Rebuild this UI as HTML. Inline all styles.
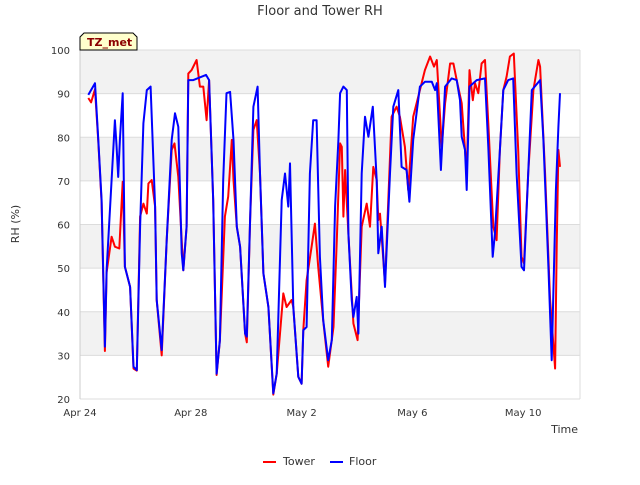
<!DOCTYPE html>
<html><head><meta charset="utf-8"><style>
body{margin:0;background:#fff;font-family:"Liberation Sans","DejaVu Sans",sans-serif}
svg text{font-family:"DejaVu Sans","Liberation Sans",sans-serif}
</style></head><body>
<svg id="c" width="640" height="480" xmlns="http://www.w3.org/2000/svg">
<text x="320" y="15" text-anchor="middle" font-size="13" fill="#333">Floor and Tower RH</text>
<g id="bands"></g><g id="grid"></g><g id="ylab"></g><g id="xlab"></g>
<text transform="translate(19,224) rotate(-90)" text-anchor="middle" font-size="11" fill="#333">RH (%)</text>
<text x="578" y="433" text-anchor="end" font-size="11" fill="#333">Time</text>
<g id="series"></g>
<g><path d="M80,50 L80,37 L84,33 L133,33 L137,37 L137,50 Z" fill="#ffffcc" stroke="#000" stroke-width="1"/><text x="87" y="46" font-size="11" font-weight="bold" fill="#8b0000">TZ_met</text></g>
<g><line x1="263" y1="462" x2="276" y2="462" stroke="#f00" stroke-width="2"/><text x="283" y="465" font-size="11" fill="#333">Tower</text></g>
<g><line x1="330" y1="462" x2="343" y2="462" stroke="#00f" stroke-width="2"/><text x="349" y="465" font-size="11" fill="#333">Floor</text></g>
</svg>
<script>
const yTicks=[20,30,40,50,60,70,80,90,100];
const xTickDays=[0,4,8,12,16];
const xTickLabels=["Apr 24","Apr 28","May 2","May 6","May 10"];
const floorDays=[0.30,0.54,0.66,0.78,0.90,0.96,1.14,1.26,1.32,1.38,1.44,1.54,1.62,1.81,1.93,2.05,2.17,2.29,2.41,2.55,2.71,2.77,2.95,3.13,3.31,3.43,3.55,3.67,3.73,3.85,3.91,4.09,4.55,4.66,4.81,4.93,5.05,5.17,5.29,5.42,5.54,5.66,5.78,5.96,6.02,6.14,6.26,6.41,6.50,6.62,6.80,6.98,7.10,7.28,7.40,7.52,7.58,7.70,7.88,8.00,8.06,8.18,8.30,8.42,8.54,8.66,8.78,8.96,9.09,9.21,9.33,9.39,9.51,9.63,9.69,9.81,9.87,9.99,10.05,10.17,10.29,10.41,10.57,10.71,10.77,10.89,11.01,11.19,11.31,11.49,11.61,11.79,11.89,12.03,12.27,12.45,12.70,12.82,12.88,13.03,13.18,13.42,13.60,13.72,13.78,13.90,13.96,14.06,14.32,14.62,14.74,14.90,14.98,15.16,15.28,15.46,15.64,15.76,15.94,16.03,16.18,16.31,16.61,16.73,16.91,17.03,17.18,17.27,17.33];
const floorRH=[89.7,92.4,79.4,65.6,32.0,49.5,70.2,83.9,77.8,70.9,79.4,90.1,50.3,45.7,27.4,26.6,59.5,83.2,90.8,91.6,64.1,42.7,31.2,56.4,79.4,85.5,82.4,53.4,49.5,59.5,93.1,93.1,94.3,93.1,65.6,25.8,33.5,70.2,90.1,90.4,79.4,59.5,54.9,35.0,34.3,61.0,87.0,91.6,71.7,48.8,41.1,21.3,25.8,65.6,71.7,64.1,74.0,41.1,25.1,23.5,35.8,36.5,71.7,83.9,83.9,52.6,38.1,28.9,33.5,64.1,79.4,90.1,91.6,90.8,57.9,42.7,38.8,43.4,35.0,71.7,84.7,80.1,87.0,70.2,53.4,59.5,45.7,71.7,87.0,90.8,73.2,72.5,65.2,79.4,91.6,92.7,92.7,90.8,92.4,72.5,91.6,93.5,93.1,88.5,80.1,77.1,67.9,91.6,93.1,93.5,77.8,52.6,57.9,77.1,90.8,93.1,93.5,71.7,50.3,49.5,71.7,90.8,93.1,79.4,50.3,28.9,67.9,82.4,90.1];
const towerDays=[0.30,0.40,0.54,0.66,0.78,0.90,0.96,1.14,1.26,1.42,1.54,1.62,1.81,1.93,2.05,2.17,2.29,2.41,2.47,2.59,2.71,2.77,2.95,3.13,3.31,3.41,3.55,3.67,3.73,3.85,3.91,4.03,4.21,4.33,4.45,4.57,4.66,4.81,4.93,5.05,5.23,5.35,5.48,5.54,5.66,5.78,5.96,6.02,6.14,6.26,6.38,6.50,6.62,6.80,6.98,7.10,7.22,7.34,7.46,7.64,7.70,7.88,8.00,8.06,8.18,8.36,8.48,8.60,8.78,8.96,9.15,9.27,9.39,9.45,9.51,9.57,9.69,9.87,10.02,10.17,10.35,10.47,10.59,10.71,10.77,10.83,11.01,11.25,11.43,11.55,11.73,11.85,12.03,12.27,12.45,12.64,12.78,12.88,13.06,13.18,13.36,13.48,13.60,13.78,13.96,14.06,14.18,14.26,14.38,14.50,14.62,14.74,14.92,15.04,15.16,15.28,15.40,15.52,15.66,15.82,15.94,16.03,16.18,16.37,16.55,16.61,16.79,16.97,17.15,17.21,17.27,17.33];
const towerRH=[89,88,91,79,65,31,49,57.2,54.9,54.5,69.8,50.3,45.7,27,26.5,61.8,64.8,62.5,69.4,70.2,64.1,42.7,30,56.4,77.1,78.6,70.9,56.4,49.5,59.5,94.6,95.4,97.7,91.6,91.6,83.9,93.1,65.6,25.5,33.5,61.8,66.4,79.4,70.2,59.5,54.9,35,33,61,81.7,83.9,71.7,48.8,41.1,21,25.8,35,44.2,41.1,42.7,41.1,25.1,23.5,35.8,47.2,54.9,60.2,50.3,38,27.4,36.5,56.4,78.6,77.8,61.8,72.5,57.9,37.3,33.5,59.5,64.8,59.5,73.2,70.2,61.0,62.5,46.5,84.7,87.0,84.7,77.8,67.9,84.7,90.8,95.4,98.5,96.2,97.7,77.8,87.8,96.9,96.9,93.1,87.8,71.7,95.4,88.5,92.4,90.1,96.9,97.7,83.2,59.5,56.4,77.1,90.8,93.9,98.5,99.2,77.1,52.6,51.1,71.7,90.8,97.7,96.2,71.7,42.7,27.0,54.9,77.1,73.2];
const L=80,R=580,T=50,B=399;
const xs=d=>L+d*27.7;
const ys=v=>B-(v-20)*(B-T)/80;
const NS="http://www.w3.org/2000/svg";
function mk(tag,attrs,parent){const e=document.createElementNS(NS,tag);for(const k in attrs)e.setAttribute(k,attrs[k]);document.getElementById(parent).appendChild(e);return e;}
for(let i=0;i<yTicks.length-1;i++){
 const g=(yTicks.length-2-i)%2===0;
 const r=mk('rect',{x:L,y:ys(yTicks[i+1]),width:R-L,height:ys(yTicks[i])-ys(yTicks[i+1]),fill:g?'#f2f2f2':'#fff'},'bands');
 
 
}
yTicks.forEach(v=>{
 const l=mk('line',{x1:L,x2:R,y1:ys(v),y2:ys(v),stroke:'#dcdcdc','stroke-width':1},'grid');
 
 
 const t=mk('text',{x:70,y:ys(v)+4,'text-anchor':'end','font-size':10,fill:'#333'},'ylab');
 t.textContent=v;
 
 
});
const ax=mk('line',{x1:L,x2:L,y1:T,y2:B,stroke:'#ccc'},'grid');


const ax2=mk('line',{x1:R,x2:R,y1:T,y2:B,stroke:'#ddd'},'grid');


xTickDays.forEach((d,i)=>{
 const t=mk('text',{x:xs(d),y:416,'text-anchor':'middle','font-size':10,fill:'#333'},'xlab');
 t.textContent=xTickLabels[i];
 
 
});
function line(days,vals,color,name){
 const p=days.map((d,i)=>xs(d).toFixed(1)+','+ys(vals[i]).toFixed(1)).join(' ');
 const e=mk('polyline',{points:p,fill:'none',stroke:color,'stroke-width':2,'stroke-linejoin':'round'},'series');
 
 
}
line(towerDays,towerRH,'#ff0000','tower-series-line');
line(floorDays,floorRH,'#0000ff','floor-series-line');
</script>
</body></html>
